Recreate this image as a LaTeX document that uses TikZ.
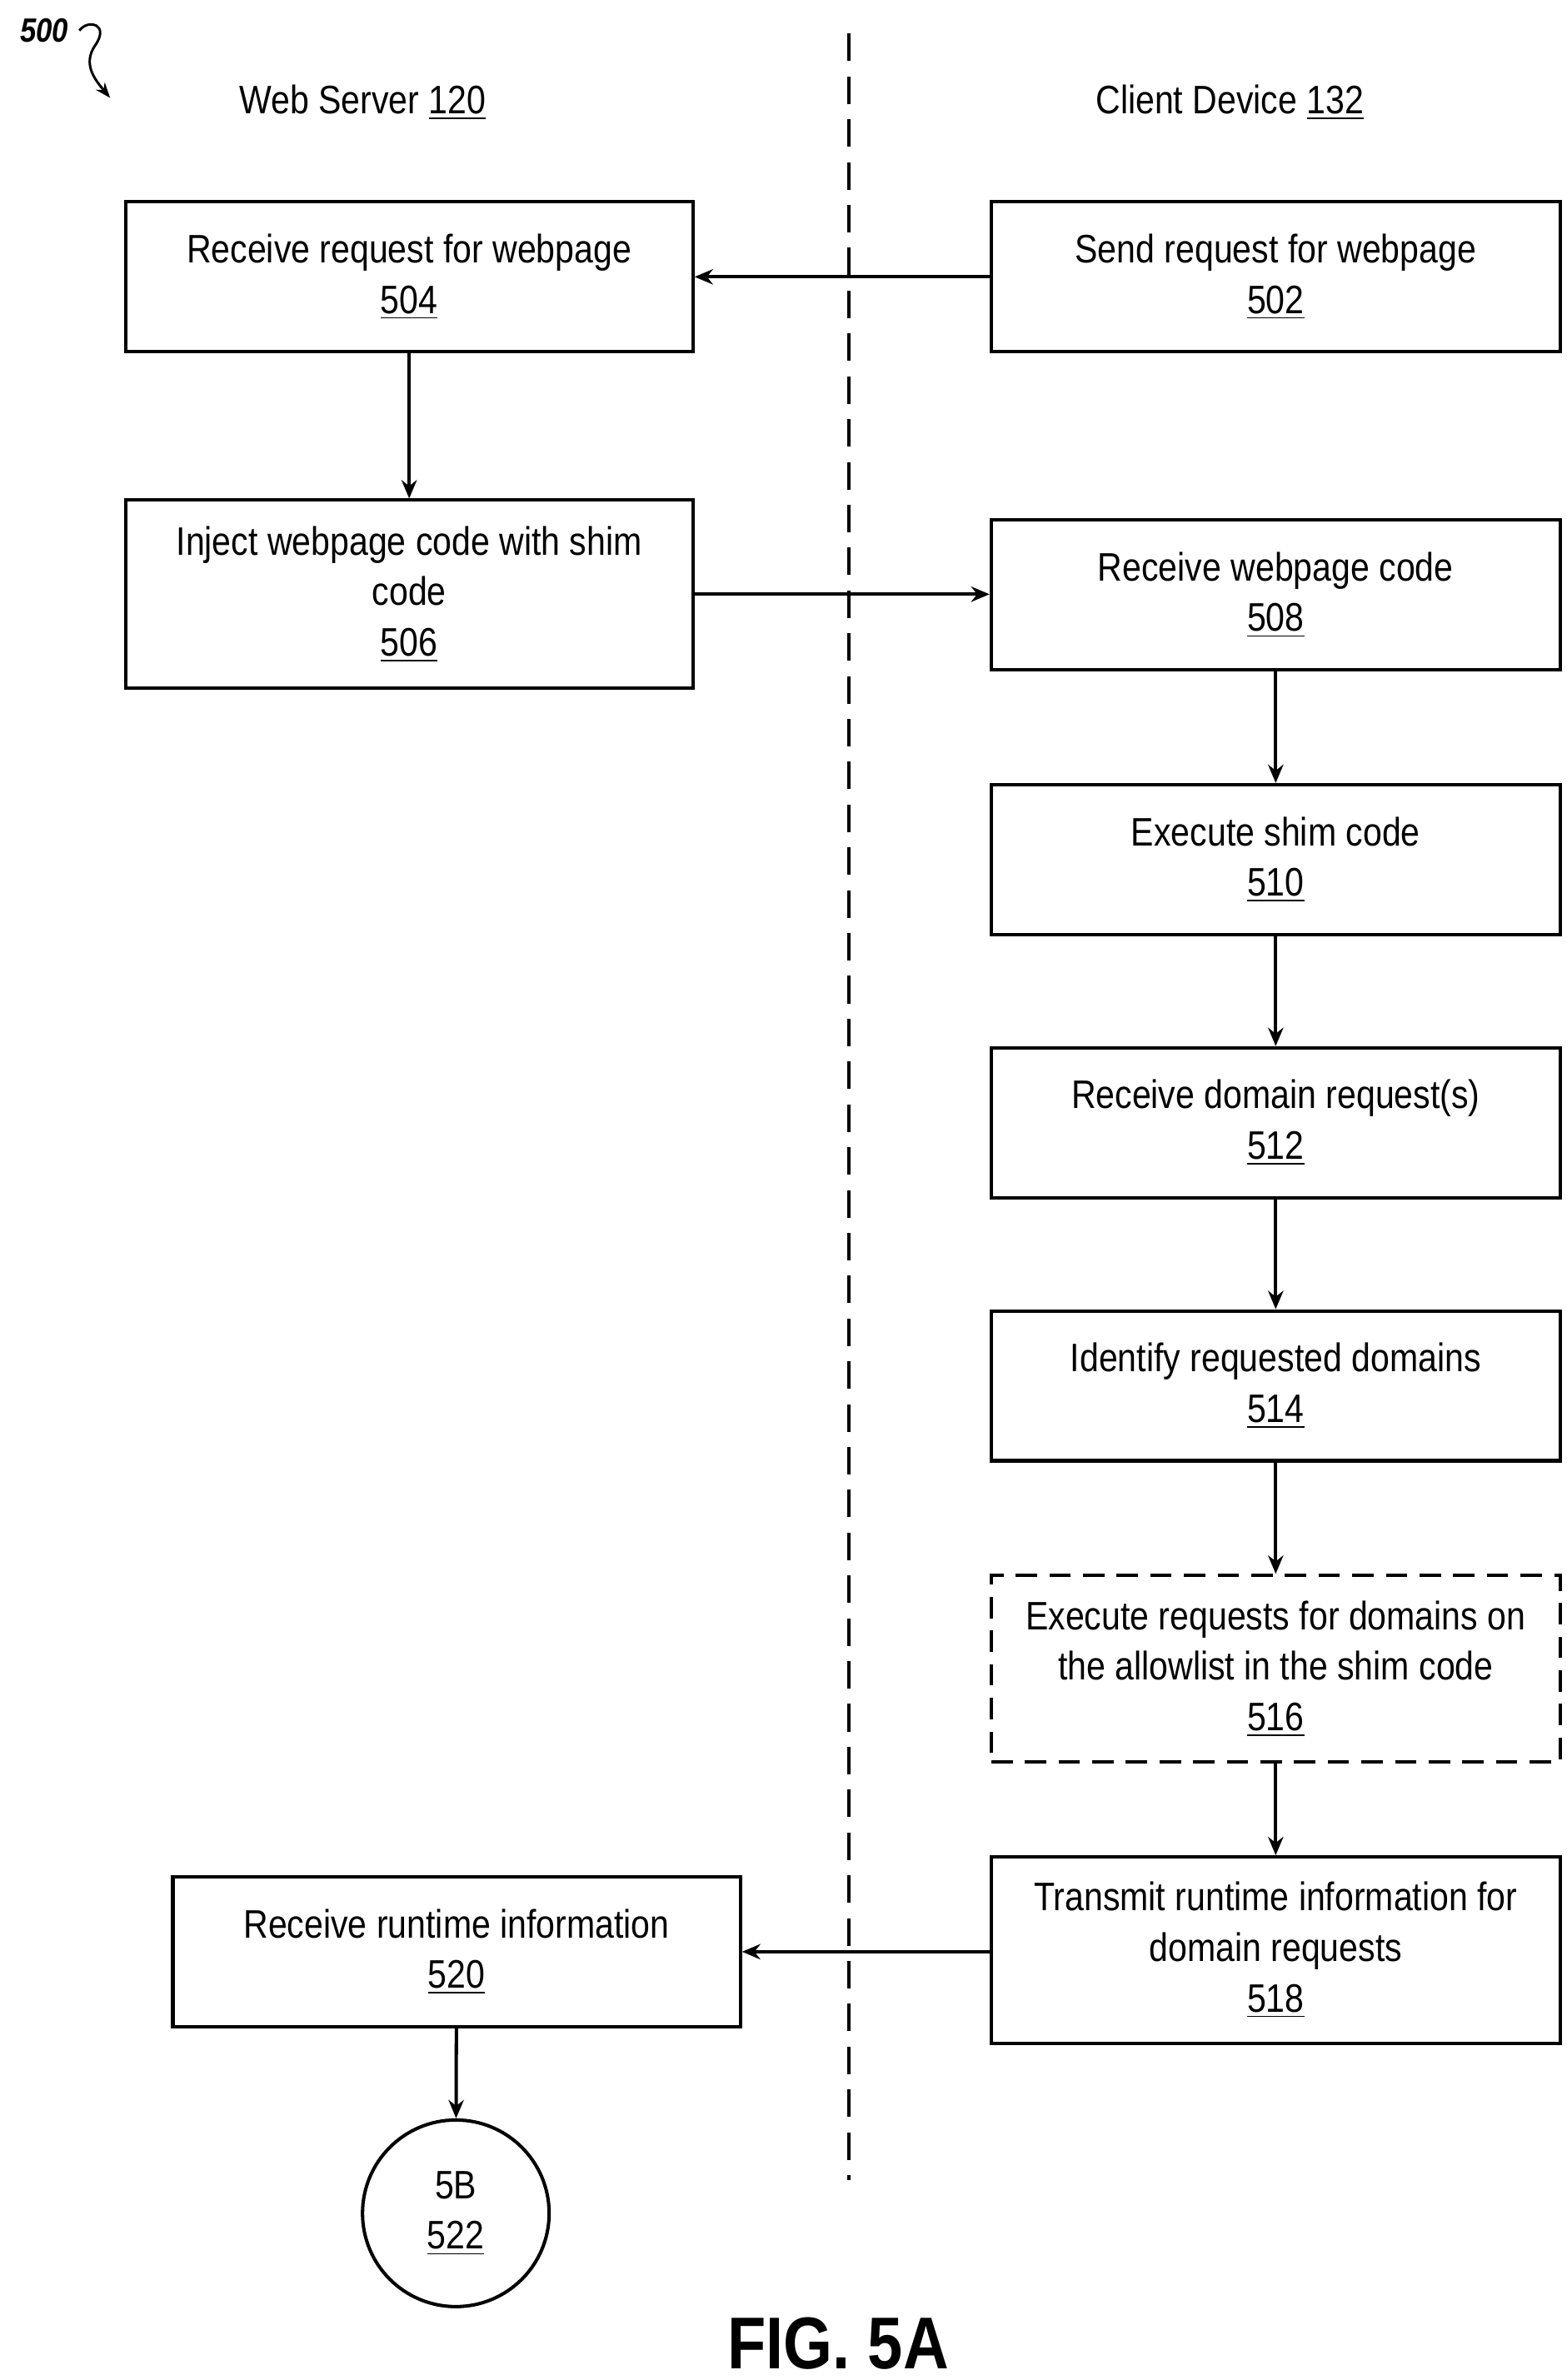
\documentclass[tikz,border=0pt]{standalone}
\usepackage{fontspec}
\setmainfont[FakeStretch=0.86]{Liberation Sans}
\usetikzlibrary{arrows.meta}
\begin{document}
\begin{tikzpicture}[x=0.5pt,y=-0.5pt,
 box/.style={draw,line width=1.1pt,align=center,font=\fontsize{13}{16.5}\selectfont,inner sep=0pt},
 arr/.style={-{Stealth[length=6pt,width=5pt]},line width=1.1pt}]
\useasboundingbox (0,0) rectangle (1024,1556);
\newcommand{\bx}[6]{\node[box,#6,minimum width=(#3-#2)*0.5pt,minimum height=(#5-#4)*0.5pt] (#1) at ({(#2+#3)/2},{(#4+#5)/2}) {};}
\bx{n504}{82}{453}{132}{230}{}
\bx{n502}{648}{1020}{132}{230}{}
\bx{n506}{82}{453}{327}{450}{}
\bx{n508}{648}{1020}{340}{438}{}
\bx{n510}{648}{1020}{513}{611}{}
\bx{n512}{648}{1020}{685}{783}{}
\bx{n514}{648}{1020}{857}{955}{}
\bx{n516}{648}{1020}{1030}{1152}{dashed,dash pattern=on 7pt off 4pt}
\bx{n518}{648}{1020}{1214}{1336}{}
\bx{n520}{113}{484}{1227}{1325}{}
\node[box,circle,minimum size=61pt] (n522) at (298,1447) {5B\\\underline{522}};
\node[box,draw=none] at (n504) {Receive request for webpage\\\underline{504}};
\node[box,draw=none] at (n502) {Send request for webpage\\\underline{502}};
\node[box,draw=none] at (n506) {Inject webpage code with shim\\code\\\underline{506}};
\node[box,draw=none] at (n508) {Receive webpage code\\\underline{508}};
\node[box,draw=none] at (n510) {Execute shim code\\\underline{510}};
\node[box,draw=none] at (n512) {Receive domain request(s)\\\underline{512}};
\node[box,draw=none] at (n514) {Identify requested domains\\\underline{514}};
\node[box,draw=none] at (n516) {Execute requests for domains on\\the allowlist in the shim code\\\underline{516}};
\node[box,draw=none] at (n518) {Transmit runtime information for\\domain requests\\\underline{518}};
\node[box,draw=none] at (n520) {Receive runtime information\\\underline{520}};
\node[font=\fontsize{13}{16}\selectfont] (h1) at (237,67) {Web Server \underline{120}};
\node[font=\fontsize{13}{16}\selectfont] (h2) at (804,67) {Client Device \underline{132}};
\draw[line width=1.1pt,dash pattern=on 9pt off 5pt] (555,22) -- (555,1425);
\node[font=\fontsize{11}{13}\selectfont\bfseries\itshape] (l500) at (29,20) {500};
\coordinate (t500) at (72,64);
\draw[-{Stealth[length=5pt]},line width=0.8pt] (l500.east) .. controls (58,12) and (72,16) .. (62,30) .. controls (54,42) and (62,52) .. (t500);
\draw[arr] (n502) -- (n504);
\draw[arr] (n504) -- (n506);
\draw[arr] (n506.east) -- (n506.east -| n508.west);
\draw[arr] (n508) -- (n510);
\draw[arr] (n510) -- (n512);
\draw[arr] (n512) -- (n514);
\draw[arr] (n514) -- (n516);
\draw[arr] (n516) -- (n518);
\draw[arr] (n518.west |- n520.east) -- (n520.east);
\draw[arr] (n520) -- (n522);
\node[font=\fontsize{24}{26}\selectfont\bfseries] (fig) at (548,1532) {FIG. 5A};
\end{tikzpicture}
\end{document}
